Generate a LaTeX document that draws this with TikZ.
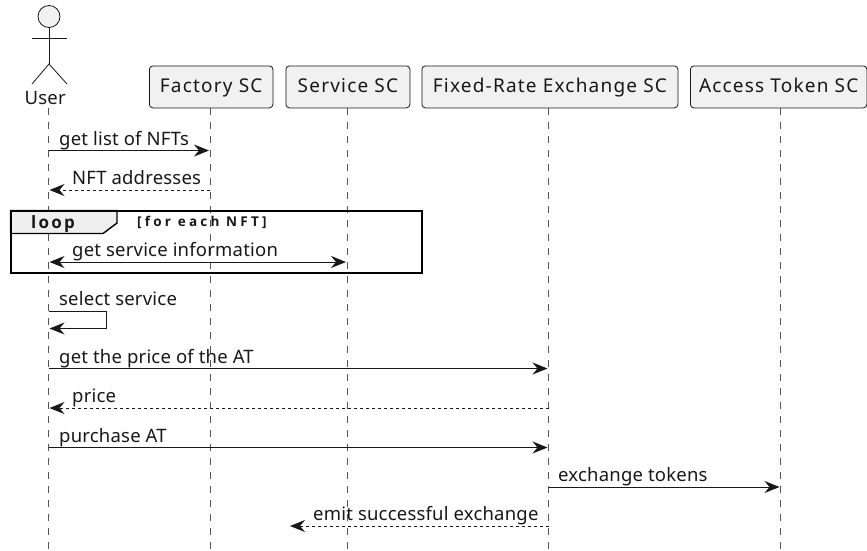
\documentclass[tikz,border=0pt]{standalone}
\usepackage{fontspec}
\setmainfont{Noto Sans}[LetterSpace=1.1]
\newfontfamily\partfont[LetterSpace=6.3]{Noto Sans}
\newfontfamily\loopfont[LetterSpace=13]{Open Sans}
\newfontfamily\condfont[LetterSpace=24]{Open Sans}
\usetikzlibrary{arrows.meta}
\definecolor{ink}{HTML}{181818}
\definecolor{life}{HTML}{555555}
\definecolor{boxfill}{HTML}{F1F1F1}
\definecolor{tabfill}{HTML}{EEEEEE}
\tikzset{
  x=1pt,y=-1pt,
  part/.style={draw=ink,fill=boxfill,rounded corners=3.5pt,line width=0.8pt,minimum height=42pt,inner sep=0pt,text height=14pt,text depth=3.5pt,anchor=north west,font=\partfont\fontsize{19}{22}\selectfont,text=ink},
  lifeline/.style={draw=life,line width=0.9pt,dash pattern=on 7pt off 7pt},
  tipb/.tip={Stealth[length=15pt,width=12pt,inset=5pt]},
  msg/.style={draw=ink,line width=1pt,-{tipb}},
  ret/.style={draw=ink,line width=1pt,-{tipb},dash pattern=on 3pt off 3pt},
  both/.style={draw=ink,line width=1pt,{tipb}-{tipb}},
  lbl/.style={font=\fontsize{18.5}{22}\selectfont,text=ink,inner sep=0pt,anchor=base west},
  actorline/.style={draw=ink,line width=0.8pt},
}
\begin{document}
\begin{tikzpicture}
\useasboundingbox (0,0) rectangle (867,550);
% actor
\node[circle,draw=ink,fill=boxfill,line width=0.8pt,minimum size=22pt,inner sep=0pt] (head) at (49,16.5) {};
\coordinate (neck) at (49,28);
\coordinate (hip) at (49,64);
\coordinate (armL) at (32,38);
\coordinate (armR) at (67,38);
\coordinate (legL) at (32,84);
\coordinate (legR) at (67,84);
\draw[actorline] (head.south) -- (hip);
\draw[actorline] (armL) -- (armR);
\draw[actorline] (legL) -- (hip) -- (legR);
\node[lbl] (user) at (24.5,104) {User};
% participants
\node[part,minimum width=123.5pt] (factory) at (149,65.5) {Factory SC};
\node[part,minimum width=124pt] (service) at (285.5,65.5) {Service SC};
\node[part,minimum width=256pt] (fixed) at (421.5,65.5) {Fixed-Rate Exchange SC};
\node[part,minimum width=176.5pt] (access) at (690,65.5) {Access Token SC};
% lifeline ends
\coordinate (uTop) at (48.5,108);
\coordinate (uEnd) at (48.5,550);
\coordinate (fTop) at (210,108);
\coordinate (fEnd) at (210,550);
\coordinate (sTop) at (347,108);
\coordinate (sEnd) at (347,550);
\coordinate (xTop) at (548.5,108);
\coordinate (xEnd) at (548.5,550);
\coordinate (aTop) at (780.5,108);
\coordinate (aEnd) at (780.5,550);
\draw[lifeline] (uTop) -- (uEnd);
\draw[lifeline] (fTop) -- (fEnd);
\draw[lifeline] (sTop) -- (sEnd);
\draw[lifeline] (xTop) -- (xEnd);
\draw[lifeline] (aTop) -- (aEnd);
% message 1
\coordinate (m1a) at (48.5,150.5);
\coordinate (m1b) at (209,150.5);
\draw[msg] (m1a) -- (m1b);
\node[lbl] at (59,145) {get list of NFTs};
% message 2
\coordinate (m2a) at (210,190);
\coordinate (m2b) at (49.5,190);
\draw[ret] (m2a) -- (m2b);
\node[lbl] at (72,184.5) {NFT addresses};
% loop
\coordinate (lpNW) at (10.5,210.5);
\coordinate (lpSE) at (421.5,272.5);
\draw[draw=black,fill=tabfill,line width=1.4pt] (lpNW) -- (117,210.5) -- (117,223) -- (103,233.5) -- (10.5,233.5) -- cycle;
\draw[draw=black,line width=2pt] (lpNW) rectangle (lpSE);
\node[font=\loopfont\bfseries\fontsize{17}{20}\selectfont,text=ink,inner sep=0pt,anchor=base west] at (31,228) {loop};
\node[font=\condfont\bfseries\fontsize{13.5}{15}\selectfont,text=ink,inner sep=0pt,anchor=base west] at (137,226) {[for each NFT]};
\coordinate (m3a) at (49.5,262);
\coordinate (m3b) at (346,262);
\draw[both] (m3a) -- (m3b);
\node[lbl] at (72,256) {get service information};
% self
\coordinate (s1) at (48.5,311);
\coordinate (s2) at (106,311);
\coordinate (s3) at (106,328.5);
\coordinate (s4) at (49.5,328.5);
\draw[msg] (s1) -- (s2) -- (s3) -- (s4);
\node[lbl] at (59,305.5) {select service};
% price
\coordinate (m5a) at (48.5,368.5);
\coordinate (m5b) at (547.5,368.5);
\draw[msg] (m5a) -- (m5b);
\node[lbl] at (59,363.5) {get the price of the AT};
\coordinate (m6a) at (548.5,408);
\coordinate (m6b) at (49.5,408);
\draw[ret] (m6a) -- (m6b);
\node[lbl] at (72,402) {price};
\coordinate (m7a) at (48.5,447.5);
\coordinate (m7b) at (547.5,447.5);
\draw[msg] (m7a) -- (m7b);
\node[lbl] at (59,442) {purchase AT};
\coordinate (m8a) at (548.5,487);
\coordinate (m8b) at (779.5,487);
\draw[msg] (m8a) -- (m8b);
\node[lbl] at (558,481) {exchange tokens};
\coordinate (m9a) at (548.5,526);
\coordinate (m9b) at (290,526);
\draw[ret] (m9a) -- (m9b);
\node[lbl] at (313,520) {emit successful exchange};
\end{tikzpicture}
\end{document}
